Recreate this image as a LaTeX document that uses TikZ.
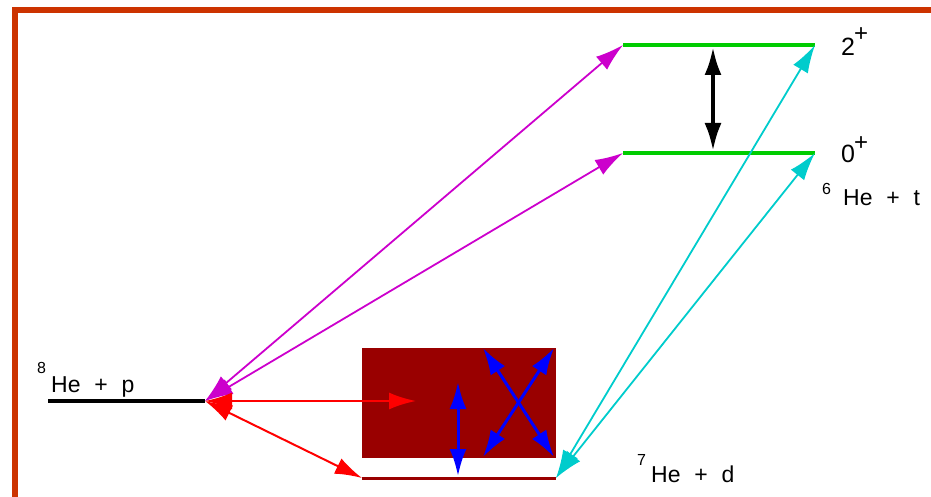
\documentclass[tikz,border=0pt]{standalone}
\usepackage{fontspec}
\setmainfont{Liberation Sans}
\usetikzlibrary{arrows.meta}
\definecolor{framecol}{HTML}{CC3300}
\definecolor{lvlgreen}{HTML}{00CC00}
\definecolor{boxred}{HTML}{990000}
\definecolor{magarrow}{HTML}{CC00CC}
\definecolor{cyanarrow}{HTML}{00CCCC}
\begin{document}
\begin{tikzpicture}[x=1pt,y=-1pt,
  tipA/.tip={Latex[length=28pt,width=17pt]},
  tipB/.tip={Latex[length=27pt,width=17pt]},
  dblA/.style={tipA-tipA},
  dblB/.style={tipB-tipB},
  lbl/.style={inner sep=0pt,font=\fontsize{23}{23}\selectfont},
  big/.style={inner sep=0pt,font=\fontsize{25}{25}\selectfont},
  suplbl/.style={inner sep=0pt,font=\fontsize{16}{16}\selectfont},
  plus/.style={inner sep=0pt,font=\fontsize{24}{24}\selectfont}]
\useasboundingbox (0,0) rectangle (931,497);
\draw[framecol, line width=6pt] (14.5,497) -- (14.5,10) -- (931,10);

% level end points
\coordinate (pL) at (48,401);
\coordinate (p) at (205,401);
\coordinate (twoL) at (623,45);
\coordinate (twoR) at (815,45);
\coordinate (zeroL) at (623,153);
\coordinate (zeroR) at (815,153);
\coordinate (dL) at (362,478);
\coordinate (dR) at (556,478);

% levels
\draw[line width=3.5pt] (pL) -- (p);
\draw[lvlgreen, line width=4.5pt] (twoL) -- (twoR);
\draw[lvlgreen, line width=4.5pt] (zeroL) -- (zeroR);
\draw[boxred, line width=3pt] (dL) -- (dR);

% box
\node[fill=boxred, minimum width=194pt, minimum height=110pt, inner sep=0pt,
      anchor=north west] (box) at (362,348) {};

% internal arrow end points
\coordinate (bTop) at (713,47);
\coordinate (bBot) at (713,151);
\coordinate (rEnd) at (416,401);
\coordinate (vTop) at (458,382);
\coordinate (vBot) at (458,476);
\coordinate (xTL) at (483,348);
\coordinate (xBR) at (554,457);
\coordinate (xTR) at (554,348);
\coordinate (xBL) at (483,457);

% arrows
\draw[dblA, line width=4pt] (bTop) -- (bBot);
\draw[dblA, magarrow, line width=1.8pt] (p) -- (twoL);
\draw[dblA, magarrow, line width=1.8pt] (p) -- (zeroL);
\draw[dblB, red, line width=2.4pt] (p) -- (rEnd);
\draw[dblB, red, line width=2pt] (p) -- (dL);
\draw[dblB, blue, line width=3pt] (vTop) -- (vBot);
\draw[dblB, blue, line width=3pt] (xTL) -- (xBR);
\draw[dblB, blue, line width=3pt] (xTR) -- (xBL);
\draw[dblA, cyanarrow, line width=1.8pt] (dR) -- (twoR);
\draw[dblA, cyanarrow, line width=1.8pt] (dR) -- (zeroR);

% labels
\node[suplbl, anchor=base west] (s8) at (37,373) {8};
\node[lbl, anchor=base west] (l8) at (51,392) {He\hspace{0.6em}+\hspace{0.6em}p};
\node[big, anchor=base west] (l2) at (841,56) {2};
\node[plus] (l2p) at (861,35) {+};
\node[big, anchor=base west] (l0) at (841,163) {0};
\node[plus] (l0p) at (861,144) {+};
\node[suplbl, anchor=base west] (s6) at (822,195) {6};
\node[lbl, anchor=base west] (l6) at (843,205) {He\hspace{0.6em}+\hspace{0.6em}t};
\node[suplbl, anchor=base west] (s7) at (637,465) {7};
\node[lbl, anchor=base west] (l7) at (651,482) {He\hspace{0.6em}+\hspace{0.6em}d};
\end{tikzpicture}
\end{document}
